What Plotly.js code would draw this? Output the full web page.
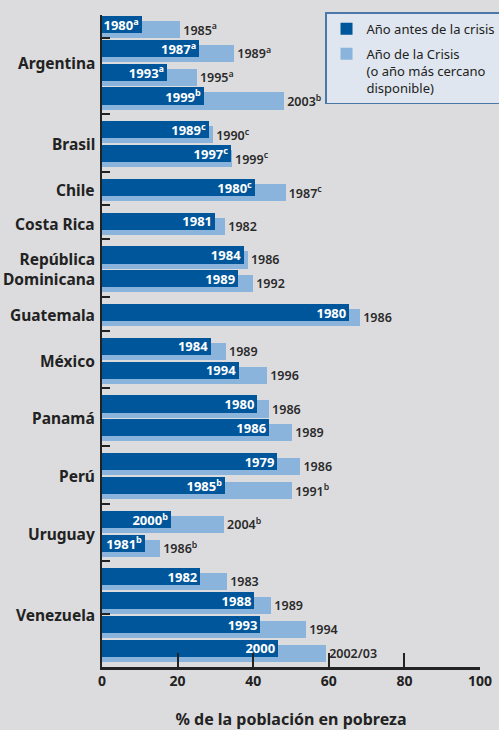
<!DOCTYPE html>
<html>
<head>
<meta charset="utf-8">
<script src="https://cdn.plot.ly/plotly-3.0.1.min.js"></script>
<style>html,body{margin:0;padding:0;background:#dcdcde;}#chart{width:499px;height:730px;}</style>
</head>
<body>
<div id="chart"></div>
<script>
const countries = ['Argentina','Brasil','Chile','Costa Rica','República<br>Dominicana','Guatemala','México','Panamá','Perú','Uruguay','Venezuela'];
const rowsPerCountry = [4,2,1,1,2,1,2,2,2,2,4];
const yearBefore = ['1980<sup>a</sup>','1987<sup>a</sup>','1993<sup>a</sup>','1999<sup>b</sup>','1989<sup>c</sup>','1997<sup>c</sup>','1980<sup>c</sup>','1981','1984','1989','1980','1984','1994','1980','1986','1979','1985<sup>b</sup>','2000<sup>b</sup>','1981<sup>b</sup>','1982','1988','1993','2000'];
const povertyBefore = [10.5,25.7,17.2,27.0,28.3,34.2,40.5,29.9,37.6,36.0,65.4,28.9,36.3,41.1,44.2,46.4,32.6,18.3,11.4,26.0,40.3,41.9,46.6];
const yearCrisis = ['1985<sup>a</sup>','1989<sup>a</sup>','1995<sup>a</sup>','2003<sup>b</sup>','1990<sup>c</sup>','1999<sup>c</sup>','1987<sup>c</sup>','1982','1986','1992','1986','1989','1996','1986','1989','1986','1991<sup>b</sup>','2004<sup>b</sup>','1986<sup>b</sup>','1983','1989','1994','2002/03'];
const povertyCrisis = [20.7,35.0,25.1,48.2,29.4,34.4,48.6,32.6,38.6,40.0,68.3,32.8,43.7,44.2,50.3,52.5,50.3,32.3,15.4,33.1,44.8,54.0,59.3];
const separatorRows = [1,4,6,7,8,10,11,13,15,17,19,21];
const xTicks = [0,20,40,60,80,100];

const GAP = 0.42;
const FONT = 'Noto Sans, Open Sans, sans-serif';
const pos = [];
const groupCenters = [];
let r = 0;
rowsPerCountry.forEach((n, g) => {
  const start = r;
  for (let i = 0; i < n; i++) { pos.push(r + g * GAP); r++; }
  groupCenters.push((pos[start] + pos[r - 1]) / 2 + 0.1);
});
const tickPos = separatorRows.map(k => (pos[k - 1] + pos[k]) / 2 + 0.05);
const maxPos = pos[pos.length - 1];

const light = {
  type: 'bar', orientation: 'h', name: 'Año de la Crisis<br>(o año más cercano<br>disponible)',
  legendgroup: 'crisis', legendrank: 2,
  x: povertyCrisis, y: pos, width: 0.72, offset: -0.15,
  marker: {color: '#8ab4dc'},
  text: yearCrisis, textposition: 'outside', constraintext: 'none', cliponaxis: false,
  textfont: {family: FONT, size: 12.5, color: '#2a2a2a', weight: 600},
  hoverinfo: 'x'
};
const dark = {
  type: 'bar', orientation: 'h', name: 'Año antes de la crisis',
  legendgroup: 'antes', legendrank: 1,
  x: povertyBefore, y: pos, width: 0.72, offset: -0.36,
  marker: {color: '#00569a'},
  text: yearBefore, textposition: 'inside', insidetextanchor: 'end', constraintext: 'none', cliponaxis: false,
  textfont: {family: FONT, size: 13, color: '#ffffff', weight: 700},
  hoverinfo: 'x'
};

const annotations = countries.map((c, i) => ({
  xref: 'paper', yref: 'y', x: 0, y: groupCenters[i], xanchor: 'right', xshift: -5,
  text: c, showarrow: false, align: 'right',
  font: {family: FONT, size: 15.5, color: '#222222', weight: 700}
}));

const layout = {
  width: 499, height: 730,
  margin: {l: 102, r: 19, t: 15, b: 63, autoexpand: false},
  paper_bgcolor: '#dcdcde', plot_bgcolor: '#dcdcde',
  barmode: 'overlay', bargap: 0,
  showlegend: true,
  legend: {
    x: 0.59, y: 1.004, xanchor: 'left', yanchor: 'top',
    bgcolor: '#dfe6ef', bordercolor: '#4a78a8', borderwidth: 1.5,
    traceorder: 'grouped', tracegroupgap: 5, valign: 'top',
    font: {family: FONT, size: 13, color: '#222222'}
  },
  xaxis: {
    range: [0, 100], tickvals: xTicks, ticks: 'inside', ticklen: 14, tickwidth: 2, tickcolor: '#222222',
    showline: true, linewidth: 2.5, linecolor: '#222222', showgrid: false, zeroline: false,
    ticklabelstandoff: 0,
    tickfont: {family: FONT, size: 14, color: '#222222', weight: 700},
    title: {text: '% de la población en pobreza', font: {family: FONT, size: 16, color: '#222222', weight: 700}, standoff: 30}
  },
  yaxis: {
    range: [maxPos + 0.785, -0.40], tickvals: tickPos, ticks: 'inside', ticklen: 8, tickwidth: 2, tickcolor: '#222222',
    showticklabels: false, showline: true, linewidth: 2.5, linecolor: '#222222', showgrid: false, zeroline: false
  },
  annotations: annotations
};

Plotly.newPlot('chart', [light, dark], layout, {displayModeBar: false, staticPlot: true});
</script>
</body>
</html>
